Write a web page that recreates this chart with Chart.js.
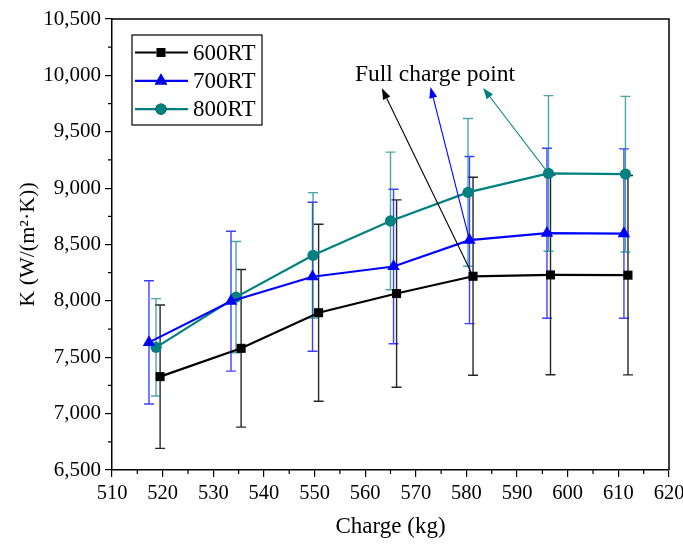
<!DOCTYPE html>
<html>
<head>
<meta charset="utf-8">
<style>
  html, body { margin: 0; padding: 0; background: #ffffff; }
  #wrap { width: 683px; height: 545px; }
</style>
<script src="https://cdn.jsdelivr.net/npm/chart.js@4.4.0/dist/chart.umd.min.js"></script>
</head>
<body>
<div id="wrap"><canvas id="c" width="683" height="545"></canvas></div>
<script>
// Series names
const seriesNames = ['600RT', '700RT', '800RT'];

// Refrigerant charge (kg) for each series
const charge600 = [519.5, 535.5, 550.8, 566.2, 581.3, 596.6, 611.9];
const charge700 = [517.3, 533.5, 549.6, 565.6, 580.6, 595.9, 611.1];
const charge800 = [518.7, 534.5, 549.7, 565.0, 580.3, 596.2, 611.4];

// Heat transfer coefficient K (W/(m²·K))
const k600 = [7328, 7579, 7895, 8065, 8218, 8230, 8228];
const k700 = [7632, 7997, 8214, 8305, 8539, 8600, 8597];
const k800 = [7588, 8033, 8404, 8709, 8962, 9130, 9124];

// Symmetric uncertainty (±) of K
const err600 = [636, 699, 785, 831, 878, 885, 884];
const err700 = [547, 620, 661, 685, 741, 754, 751];
const err800 = [432, 493, 556, 610, 655, 690, 690];

// Axis ranges and tick steps
const xRange = [510, 620];
const xStep = 10;
const yRange = [6500, 10500];
const yStep = 500;

// "Full charge point" callout: which point each arrow starts at, and where it points
const calloutText = 'Full charge point';
const calloutAnchor = { x: 573.8, y: 10003 };
const calloutSeries = [0, 1, 2];
const calloutIndex = [4, 4, 5];
const calloutTipX = [563.3, 572.9, 583.3];
const calloutTipY = [9885, 9897, 9888];

const SERIF = '"Liberation Serif", "Times New Roman", Times, serif';
const colors = ['#000000', '#0000ff', '#008080'];
const errColors = ['rgba(0,0,0,0.85)', 'rgba(0,0,255,0.75)', 'rgba(0,128,128,0.7)'];
const markers = ['rect', 'triangle', 'circle'];
const markerRadius = [6.4, 7.2, 5.6];

function toPoints(xs, ys) {
  return xs.map((x, i) => ({ x: x, y: ys[i] }));
}

const errors = [err600, err700, err800];

const datasets = [
  [charge600, k600],
  [charge700, k700],
  [charge800, k800]
].map((pair, i) => ({
  label: seriesNames[i],
  data: toPoints(pair[0], pair[1]),
  showLine: true,
  borderColor: colors[i],
  backgroundColor: colors[i],
  borderWidth: 2.2,
  pointStyle: markers[i],
  pointRadius: markerRadius[i],
  pointHoverRadius: markerRadius[i],
  pointBackgroundColor: colors[i],
  pointBorderColor: colors[i],
  pointBorderWidth: 0,
  tension: 0
}));

// Vertical error bars with caps, drawn beneath the series
const errorBars = {
  id: 'errorBars',
  beforeDatasetsDraw(chart) {
    const ctx = chart.ctx;
    const ys = chart.scales.y;
    ctx.save();
    chart.data.datasets.forEach((ds, i) => {
      const meta = chart.getDatasetMeta(i);
      ctx.strokeStyle = errColors[i];
      ctx.lineWidth = 1.4;
      meta.data.forEach((pt, j) => {
        const v = ds.data[j].y;
        const e = errors[i][j];
        const top = ys.getPixelForValue(v + e);
        const bot = ys.getPixelForValue(v - e);
        const x = pt.x;
        const cap = 5;
        ctx.beginPath();
        ctx.moveTo(x, top); ctx.lineTo(x, bot);
        ctx.moveTo(x - cap, top); ctx.lineTo(x + cap, top);
        ctx.moveTo(x - cap, bot); ctx.lineTo(x + cap, bot);
        ctx.stroke();
      });
    });
    ctx.restore();
  }
};

// Closed frame and minor ticks
const frame = {
  id: 'frame',
  afterDraw(chart) {
    const ctx = chart.ctx;
    const a = chart.chartArea;
    const xs = chart.scales.x, ys = chart.scales.y;
    ctx.save();
    ctx.strokeStyle = '#000';
    ctx.lineWidth = 1.5;
    ctx.beginPath();
    ctx.moveTo(a.left, a.top); ctx.lineTo(a.right, a.top); ctx.lineTo(a.right, a.bottom);
    ctx.stroke();
    ctx.lineWidth = 1.2;
    ctx.beginPath();
    for (let v = xRange[0] + xStep / 2; v < xRange[1]; v += xStep) {
      const px = xs.getPixelForValue(v);
      ctx.moveTo(px, a.bottom); ctx.lineTo(px, a.bottom + 4);
    }
    for (let v = yRange[0] + yStep / 2; v < yRange[1]; v += yStep) {
      const py = ys.getPixelForValue(v);
      ctx.moveTo(a.left, py); ctx.lineTo(a.left - 4, py);
    }
    ctx.stroke();
    ctx.restore();
  }
};

// Callout text with arrows to the full charge points
const callout = {
  id: 'callout',
  afterDatasetsDraw(chart) {
    const ctx = chart.ctx;
    const xs = chart.scales.x, ys = chart.scales.y;
    ctx.save();
    calloutSeries.forEach((s, k) => {
      const pt = chart.getDatasetMeta(s).data[calloutIndex[k]];
      const tx = xs.getPixelForValue(calloutTipX[k]);
      const ty = ys.getPixelForValue(calloutTipY[k]);
      const ang = Math.atan2(ty - pt.y, tx - pt.x);
      const headLen = 11, headW = 4;
      const bx = tx - headLen * Math.cos(ang), by = ty - headLen * Math.sin(ang);
      ctx.strokeStyle = colors[s];
      ctx.fillStyle = colors[s];
      ctx.lineWidth = 1.1;
      ctx.beginPath();
      ctx.moveTo(pt.x, pt.y); ctx.lineTo(bx, by);
      ctx.stroke();
      ctx.beginPath();
      ctx.moveTo(tx, ty);
      ctx.lineTo(bx + headW * Math.sin(ang), by - headW * Math.cos(ang));
      ctx.lineTo(bx - headW * Math.sin(ang), by + headW * Math.cos(ang));
      ctx.closePath();
      ctx.fill();
    });
    ctx.fillStyle = '#000';
    ctx.font = '23.5px ' + SERIF;
    ctx.textAlign = 'center';
    ctx.textBaseline = 'middle';
    ctx.fillText(calloutText, xs.getPixelForValue(calloutAnchor.x), ys.getPixelForValue(calloutAnchor.y));
    ctx.restore();
  }
};

// Boxed legend in the upper-left of the plot
const boxLegend = {
  id: 'boxLegend',
  afterDraw(chart) {
    const ctx = chart.ctx;
    const a = chart.chartArea;
    const bx = a.left + 20, by = a.top + 16, bw = 130, bh = 90;
    ctx.save();
    ctx.fillStyle = '#fff';
    ctx.fillRect(bx, by, bw, bh);
    ctx.strokeStyle = '#000';
    ctx.lineWidth = 1.2;
    ctx.strokeRect(bx, by, bw, bh);
    ctx.font = '23px ' + SERIF;
    ctx.textBaseline = 'middle';
    ctx.textAlign = 'left';
    chart.data.datasets.forEach((ds, i) => {
      const y = by + 17.5 + i * 28.3;
      ctx.strokeStyle = colors[i];
      ctx.lineWidth = 2.2;
      ctx.beginPath();
      ctx.moveTo(bx + 3, y); ctx.lineTo(bx + 56, y);
      ctx.stroke();
      Chart.helpers.drawPoint(ctx, {
        pointStyle: markers[i], radius: markerRadius[i], rotation: 0, borderWidth: 0
      }, bx + 29, y);
      ctx.fillStyle = colors[i];
      ctx.fill();
      ctx.fillStyle = '#000';
      ctx.fillText(ds.label, bx + 61, y + 1);
    });
    ctx.restore();
  }
};

new Chart(document.getElementById('c'), {
  type: 'scatter',
  data: { datasets: datasets },
  options: {
    responsive: false,
    animation: false,
    layout: { padding: { top: 19, right: 14, left: 0, bottom: 0 } },
    plugins: {
      legend: { display: false },
      tooltip: { enabled: false }
    },
    scales: {
      x: {
        type: 'linear',
        min: xRange[0], max: xRange[1],
        ticks: { stepSize: xStep, color: '#000', font: { family: SERIF, size: 20.5 }, padding: 4,
                 callback: v => String(v) },
        grid: { display: true, drawOnChartArea: false, drawTicks: true, tickLength: 7, color: '#000', lineWidth: 1.2 },
        border: { display: true, color: '#000', width: 1.5 },
        title: { display: true, text: 'Charge (kg)', color: '#000', font: { family: SERIF, size: 23 }, padding: { top: 0, bottom: 4 } },
        afterFit(s) { s.height = 75; s.paddingLeft = 0; s.paddingRight = 0; }
      },
      y: {
        min: yRange[0], max: yRange[1],
        ticks: { stepSize: yStep, color: '#000', font: { family: SERIF, size: 21 }, padding: 4,
                 callback: v => Number(v).toLocaleString('en-US') },
        grid: { display: true, drawOnChartArea: false, drawTicks: true, tickLength: 7, color: '#000', lineWidth: 1.2 },
        border: { display: true, color: '#000', width: 1.5 },
        title: { display: true, text: 'K (W/(m²·K))', color: '#000', font: { family: SERIF, size: 22 }, padding: { top: 15, bottom: 0 } },
        afterFit(s) { s.width = 112; s.paddingTop = 0; s.paddingBottom = 0; }
      }
    }
  },
  plugins: [errorBars, frame, callout, boxLegend]
});
</script>
</body>
</html>
